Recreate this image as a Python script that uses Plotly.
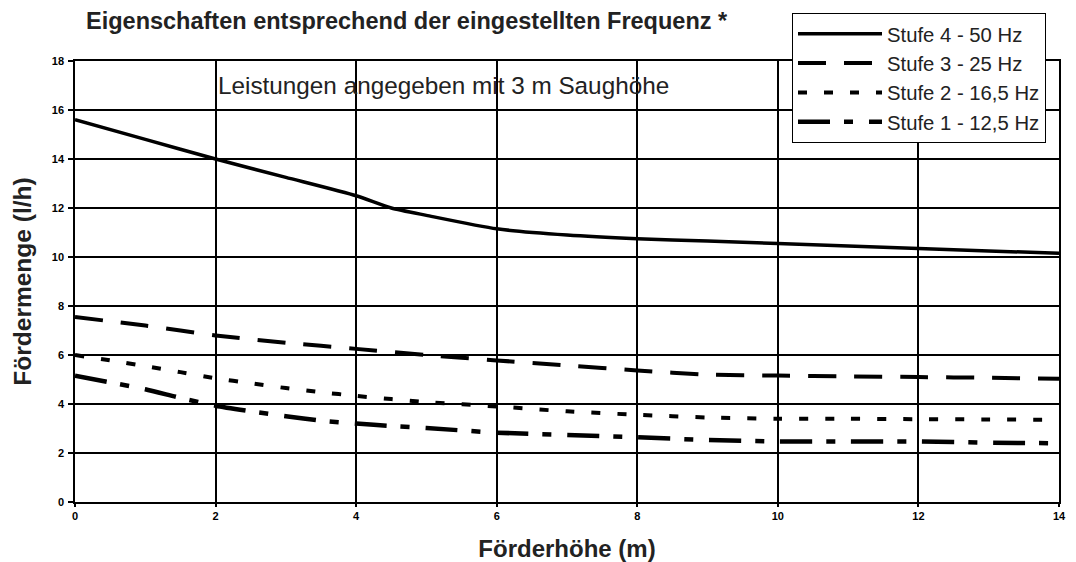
import plotly.graph_objects as go

# Data
hoehe_4 = [0, 1, 2, 3, 4, 4.5, 5, 6, 7, 8, 9, 10, 11, 12, 13, 14]
menge_4 = [15.6, 14.8, 14.0, 13.25, 12.5, 12.0, 11.7, 11.15, 10.9, 10.75, 10.65, 10.55, 10.45, 10.35, 10.25, 10.15]

hoehe_3 = [0, 1, 2, 3, 4, 5, 6, 7, 8, 9, 10, 11, 12, 13, 14]
menge_3 = [7.55, 7.2, 6.8, 6.5, 6.25, 6.0, 5.78, 5.57, 5.37, 5.2, 5.16, 5.13, 5.1, 5.07, 5.03]

hoehe_2 = [0, 0.5, 1, 1.5, 2, 2.5, 3, 3.5, 4, 4.5, 5, 6, 7, 8, 9, 10, 11, 12, 13, 14]
menge_2 = [6.0, 5.78, 5.55, 5.3, 5.05, 4.85, 4.65, 4.48, 4.33, 4.2, 4.08, 3.9, 3.7, 3.56, 3.45, 3.4, 3.4, 3.38, 3.37, 3.35]

hoehe_1 = [0, 0.5, 1, 1.5, 2, 2.5, 3, 3.5, 4, 4.5, 5, 6, 7, 8, 9, 10, 11, 12, 13, 14]
menge_1 = [5.15, 4.88, 4.6, 4.25, 3.93, 3.7, 3.5, 3.32, 3.2, 3.1, 3.02, 2.83, 2.74, 2.64, 2.53, 2.47, 2.47, 2.47, 2.42, 2.4]

namen = ["Stufe 4 - 50 Hz", "Stufe 3 - 25 Hz", "Stufe 2 - 16,5 Hz", "Stufe 1 - 12,5 Hz"]

x_ticks = [0, 2, 4, 6, 8, 10, 12, 14]
y_ticks = [0, 2, 4, 6, 8, 10, 12, 14, 16, 18]

titel = "Eigenschaften entsprechend der eingestellten Frequenz *"
x_titel = "Förderhöhe (m)"
y_titel = "Fördermenge (l/h)"
hinweis = "Leistungen angegeben mit 3 m Saughöhe"

series = [
    (hoehe_4, menge_4, namen[0], "solid", 3.5),
    (hoehe_3, menge_3, namen[1], "28px,18px", 4),
    (hoehe_2, menge_2, namen[2], "9px,17px", 4),
    (hoehe_1, menge_1, namen[3], "32px,14px,9px,16px", 4.5),
]

fig = go.Figure()
for xs, ys, name, dash, w in series:
    fig.add_trace(go.Scatter(
        x=xs, y=ys, name=name, mode="lines",
        line=dict(color="black", width=w, dash=dash, shape="spline", smoothing=0.6),
    ))

fnt = "Liberation Sans, Arial, sans-serif"
# the page body adds an 8px offset, so the figure is 8px smaller and shifted
W, H = 1068, 554
L, R, T, B = 67, 17, 53, 60
pw, ph = W - L - R, H - T - B

fig.update_layout(
    width=W, height=H,
    margin=dict(l=L, r=R, t=T, b=B, autoexpand=False),
    paper_bgcolor="white", plot_bgcolor="white",
    font=dict(family=fnt, color="black"),
    title=dict(text="<b>" + titel + "</b>", x=78 / W, xanchor="left",
               y=1 - 13 / H, yanchor="middle", font=dict(size=23.5, family=fnt, color="#222")),
    legend=dict(
        x=(784 - L) / pw, xanchor="left", y=(H - B - 5) / ph, yanchor="top",
        bgcolor="white", bordercolor="black", borderwidth=1,
        font=dict(size=20.3, family=fnt, color="#222"),
        itemwidth=84,
    ),
    xaxis=dict(
        range=[0, 14], tickvals=x_ticks, ticktext=[f"<b>{v}</b>" for v in x_ticks],
        showgrid=True, gridcolor="black", gridwidth=1.5,
        showline=True, linecolor="black", linewidth=1.5, mirror=True,
        ticks="outside", ticklen=3, tickcolor="black", tickwidth=1.5,
        ticklabelstandoff=0,
        tickfont=dict(size=11, family=fnt, color="black"),
        zeroline=False,
        title=dict(text="<b>" + x_titel + "</b>", font=dict(size=24, family=fnt, color="#222"), standoff=19),
    ),
    yaxis=dict(
        range=[0, 18], tickvals=y_ticks, ticktext=[f"<b>{v}</b>" for v in y_ticks],
        showgrid=True, gridcolor="black", gridwidth=1.5,
        showline=True, linecolor="black", linewidth=1.5, mirror=True,
        ticks="outside", ticklen=5, tickcolor="black", tickwidth=1.5,
        ticklabelstandoff=2,
        tickfont=dict(size=11, family=fnt, color="black"),
        zeroline=False,
        title=dict(text="<b>" + y_titel + "</b>", font=dict(size=24.5, family=fnt, color="#222"), standoff=13),
    ),
    annotations=[dict(
        text=hinweis, x=2.0, y=17.0, xref="x", yref="y", xanchor="left", yanchor="middle",
        showarrow=False, font=dict(size=24.3, family=fnt, color="#222"), xshift=0,
    )],
)

fig.write_html("out.html")
